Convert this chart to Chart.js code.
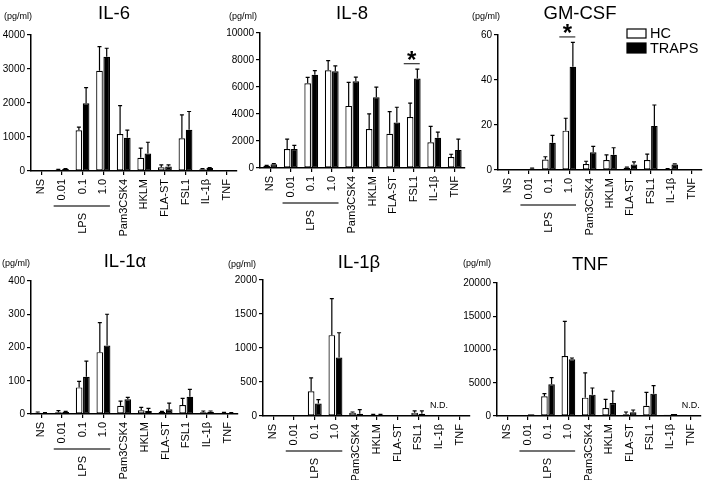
<!DOCTYPE html>
<html><head><meta charset="utf-8">
<script src="https://cdn.jsdelivr.net/npm/chart.js@4.4.0/dist/chart.umd.min.js"></script>
<style>
html,body{margin:0;padding:0;background:#fff;}
#wrap{position:relative;width:709px;height:480px;overflow:hidden;}
#wrap canvas{position:absolute;left:0;top:0;}
</style>
</head><body>
<div id="wrap"></div>
<script>
// ---------- DATA ----------
const categories = ['NS', '0.01', '0.1', '1.0', 'Pam3CSK4', 'HKLM', 'FLA-ST', 'FSL1', 'IL-1β', 'TNF'];
const seriesNames = ['HC', 'TRAPS'];
const lpsGroup = { label: 'LPS', from: 1, to: 3 };
const unitLabel = '(pg/ml)';

const il6HC       = [0, 40, 1200, 2950, 1090, 390, 110, 960, 50, 0];
const il6HCErr    = [0, 10, 90, 710, 830, 280, 70, 690, 20, 0];
const il6TRAPS    = [0, 60, 1990, 3360, 980, 515, 130, 1210, 90, 0];
const il6TRAPSErr = [0, 10, 460, 250, 220, 330, 50, 540, 10, 0];
const il6Ticks    = [0, 4000, 1000];

const il8HC       = [170, 1400, 6280, 7240, 4600, 2880, 2540, 3770, 1900, 820];
const il8HCErr    = [30, 740, 440, 720, 1750, 1130, 1630, 1040, 1180, 200];
const il8TRAPS    = [280, 1400, 6900, 7170, 6430, 5250, 3370, 6630, 2240, 1340];
const il8TRAPSErr = [40, 270, 320, 400, 300, 740, 1130, 690, 420, 800];
const il8Ticks    = [0, 10000, 2000];
const il8Sig      = [7];

const gmHC        = [0, 0.1, 4.7, 17.5, 2.7, 4.4, 1.0, 4.4, 0.4, 0];
const gmHCErr     = [0, 0, 1.2, 5.5, 1.2, 2.3, 0.3, 2.7, 0.2, 0];
const gmTRAPS     = [0, 0.6, 12.1, 45.9, 7.9, 6.8, 2.5, 19.6, 2.4, 0];
const gmTRAPSErr  = [0, 0.2, 3.3, 10.8, 2.6, 3.1, 1.1, 9.3, 0.3, 0];
const gmTicks     = [0, 60, 20];
const gmSig       = [3];

const il1aHC       = [4, 5, 80, 186, 25, 11, 6, 27, 5, 4];
const il1aHCErr    = [2, 5, 18, 89, 14, 9, 2, 20, 4, 1];
const il1aTRAPS    = [3, 6, 112, 206, 44, 9, 14, 52, 7, 3];
const il1aTRAPSErr = [1, 2, 47, 94, 6, 8, 19, 22, 2, 1];
const il1aTicks    = [0, 400, 100];

const il1bHC       = [0, 0, 364, 1189, 49, 20, 5, 49, 0, 0];
const il1bHCErr    = [0, 0, 196, 536, 10, 5, 0, 25, 0, 0];
const il1bTRAPS    = [0, 0, 182, 860, 34, 20, 5, 34, 0, 0];
const il1bTRAPSErr = [0, 0, 59, 364, 59, 5, 0, 40, 0, 0];
const il1bTicks    = [0, 2000, 500];
const il1bND       = [8];

const tnfHC       = [20, 100, 2960, 9020, 2760, 1200, 250, 1550, 200, 0];
const tnfHCErr    = [0, 0, 400, 5210, 3710, 1300, 350, 2000, 0, 0];
const tnfTRAPS    = [20, 250, 4760, 8520, 3210, 1960, 550, 3360, 300, 0];
const tnfTRAPSErr = [0, 0, 1000, 200, 1000, 1800, 350, 1200, 0, 0];
const tnfTicks    = [0, 20000, 5000];
const tnfND       = [9];

// ---------- LAYOUT ----------
const FONT = "'Liberation Sans', Arial, Helvetica, sans-serif";
const W = 709, H = 480, YW = 40, XH = 70;

const panels = [
  { title: 'IL-6', hc: il6HC, hcErr: il6HCErr, tr: il6TRAPS, trErr: il6TRAPSErr, ticks: il6Ticks, sig: [], nd: [],
    box: { l: 31, r: 237, t: 35, b: 171 }, tx: 114, ty: 19, ux: 18, uy: 17, legend: false },
  { title: 'IL-8', hc: il8HC, hcErr: il8HCErr, tr: il8TRAPS, trErr: il8TRAPSErr, ticks: il8Ticks, sig: il8Sig, nd: [],
    box: { l: 260, r: 465, t: 33, b: 168 }, tx: 352, ty: 19, ux: 243, uy: 17, legend: false },
  { title: 'GM-CSF', hc: gmHC, hcErr: gmHCErr, tr: gmTRAPS, trErr: gmTRAPSErr, ticks: gmTicks, sig: gmSig, nd: [],
    box: { l: 498, r: 704, t: 35, b: 170 }, tx: 580, ty: 19, ux: 486, uy: 17, legend: true },
  { title: 'IL-1α', hc: il1aHC, hcErr: il1aHCErr, tr: il1aTRAPS, trErr: il1aTRAPSErr, ticks: il1aTicks, sig: [], nd: [],
    box: { l: 31, r: 238, t: 281, b: 414 }, tx: 125, ty: 267, ux: 16, uy: 264, legend: false },
  { title: 'IL-1β', hc: il1bHC, hcErr: il1bHCErr, tr: il1bTRAPS, trErr: il1bTRAPSErr, ticks: il1bTicks, sig: [], nd: il1bND,
    box: { l: 263, r: 470, t: 280, b: 416 }, tx: 359, ty: 268, ux: 242, uy: 265, legend: false },
  { title: 'TNF', hc: tnfHC, hcErr: tnfHCErr, tr: tnfTRAPS, trErr: tnfTRAPSErr, ticks: tnfTicks, sig: [], nd: tnfND,
    box: { l: 497, r: 701, t: 283, b: 416 }, tx: 590, ty: 270, ux: 477, uy: 264, legend: false }
];

Chart.defaults.font.family = FONT;
Chart.defaults.color = '#000';

const extrasPlugin = {
  id: 'extras',
  afterDatasetsDraw(chart) {
    const ctx = chart.ctx, ys = chart.scales.y;
    ctx.save();
    ctx.strokeStyle = '#000';
    ctx.lineWidth = 1.2;
    chart.data.datasets.forEach((ds, di) => {
      const meta = chart.getDatasetMeta(di);
      meta.data.forEach((bar, i) => {
        const e = ds.errors[i];
        if (!e) return;
        const top = ys.getPixelForValue(ds.data[i] + e);
        ctx.beginPath();
        ctx.moveTo(bar.x, bar.y);
        ctx.lineTo(bar.x, top);
        ctx.moveTo(bar.x - 2, top);
        ctx.lineTo(bar.x + 2, top);
        ctx.stroke();
      });
    });
    ctx.restore();
  },
  afterDraw(chart) {
    const p = chart.options.plugins.extras.panel;
    const ctx = chart.ctx, xs = chart.scales.x, ys = chart.scales.y;
    ctx.save();
    ctx.fillStyle = '#000';
    // title
    ctx.font = '18.5px ' + FONT;
    ctx.textAlign = 'center';
    ctx.textBaseline = 'alphabetic';
    ctx.fillText(p.title, p.tx, p.ty);
    // unit
    ctx.font = '9px ' + FONT;
    ctx.textBaseline = 'middle';
    ctx.fillText(unitLabel, p.ux, p.uy);
    // LPS bracket
    const step = xs.getPixelForValue(1) - xs.getPixelForValue(0);
    const lx1 = xs.getPixelForValue(lpsGroup.from) - 0.4 * step;
    const lx2 = xs.getPixelForValue(lpsGroup.to) + 0.33 * step;
    const ly = ys.bottom + 35;
    ctx.strokeStyle = '#444';
    ctx.lineWidth = 1.5;
    ctx.beginPath(); ctx.moveTo(lx1, ly); ctx.lineTo(lx2, ly); ctx.stroke();
    ctx.save();
    ctx.translate(xs.getPixelForValue((lpsGroup.from + lpsGroup.to) / 2), ly + 7);
    ctx.rotate(-Math.PI / 2);
    ctx.font = '11px ' + FONT;
    ctx.textAlign = 'right';
    ctx.textBaseline = 'middle';
    ctx.fillText(lpsGroup.label, 0, 0);
    ctx.restore();
    // significance
    const ds = chart.data.datasets;
    p.sig.forEach(i => {
      const topVal = Math.max(ds[0].data[i] + ds[0].errors[i], ds[1].data[i] + ds[1].errors[i]);
      const yLine = ys.getPixelForValue(topVal) - 5.5;
      const cx = xs.getPixelForValue(i);
      ctx.strokeStyle = '#333';
      ctx.lineWidth = 1.2;
      ctx.beginPath(); ctx.moveTo(cx - 10, yLine); ctx.lineTo(cx + 6, yLine); ctx.stroke();
      const fs = 24;
      ctx.font = 'bold ' + fs + 'px ' + FONT;
      ctx.textAlign = 'center';
      ctx.textBaseline = 'alphabetic';
      ctx.fillText('*', cx - 2, yLine - 9.7 + 0.575 * fs);
    });
    // N.D.
    p.nd.forEach(i => {
      ctx.font = '9px ' + FONT;
      ctx.textAlign = 'center';
      ctx.textBaseline = 'middle';
      ctx.fillText('N.D.', xs.getPixelForValue(i), ys.bottom - 10);
    });
    // legend
    if (p.legend) {
      const rows = [{ y: 29, h: 9 }, { y: 43, h: 10 }];
      ds.forEach((d, k) => {
        ctx.fillStyle = d.backgroundColor;
        ctx.fillRect(627, rows[k].y, 19, rows[k].h);
        ctx.strokeStyle = '#000';
        ctx.lineWidth = 1.2;
        ctx.strokeRect(627, rows[k].y, 19, rows[k].h);
        ctx.fillStyle = '#000';
        ctx.font = '14.5px ' + FONT;
        ctx.textAlign = 'left';
        ctx.textBaseline = 'middle';
        ctx.fillText(d.label, 650, rows[k].y + rows[k].h / 2 + 0.5);
      });
    }
    ctx.restore();
  }
};

const wrap = document.getElementById('wrap');
panels.forEach((p, idx) => {
  const cv = document.createElement('canvas');
  cv.width = W; cv.height = H;
  cv.style.width = W + 'px'; cv.style.height = H + 'px';
  wrap.appendChild(cv);
  new Chart(cv, {
    type: 'bar',
    data: {
      labels: categories,
      datasets: [
        { label: seriesNames[0], data: p.hc, errors: p.hcErr, backgroundColor: '#ffffff', borderColor: '#000', borderWidth: 1.2, borderSkipped: false },
        { label: seriesNames[1], data: p.tr, errors: p.trErr, backgroundColor: '#000000', borderColor: '#000', borderWidth: 1.2, borderSkipped: false }
      ]
    },
    options: {
      responsive: false,
      animation: false,
      devicePixelRatio: 1,
      datasets: { bar: { categoryPercentage: 0.7, barPercentage: 0.92 } },
      layout: { padding: { left: p.box.l - YW, top: p.box.t, right: W - p.box.r, bottom: H - p.box.b - XH } },
      plugins: { legend: { display: false }, tooltip: { enabled: false }, extras: { panel: p } },
      scales: {
        x: {
          offset: true,
          grid: { display: true, drawOnChartArea: false, drawTicks: true, tickLength: 4, offset: false, color: '#000', lineWidth: 1.2 },
          border: { display: true, color: '#000', width: 1.5 },
          ticks: { autoSkip: false, minRotation: 90, maxRotation: 90, padding: 4, font: { size: 11 }, color: '#000' },
          afterFit(s) { s.height = XH; }
        },
        y: {
          min: p.ticks[0], max: p.ticks[1],
          grid: { display: true, drawOnChartArea: false, drawTicks: true, tickLength: 4, color: '#000', lineWidth: 1.2 },
          border: { display: true, color: '#000', width: 1.5 },
          ticks: { stepSize: p.ticks[2], padding: 2, font: { size: 10 }, color: '#000', callback: v => String(v) },
          afterFit(s) { s.width = YW; }
        }
      }
    },
    plugins: [extrasPlugin]
  });
});
</script>
</body></html>
